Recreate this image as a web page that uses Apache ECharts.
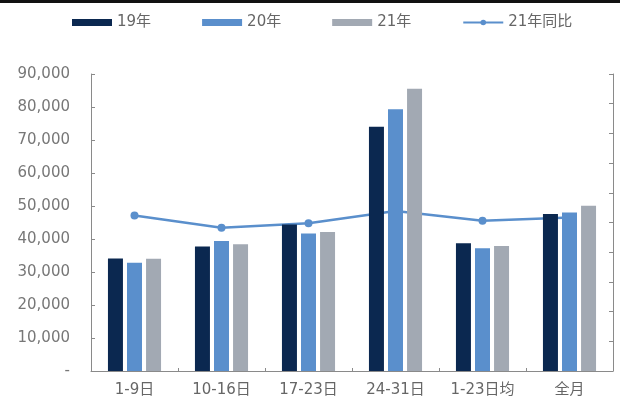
<!DOCTYPE html>
<html>
<head>
<meta charset="utf-8">
<script src="https://cdn.jsdelivr.net/npm/echarts@6/dist/echarts.min.js"></script>
<style>
html,body{margin:0;padding:0;background:#fff;}
#chart{width:620px;height:403px;}
</style>
</head>
<body>
<div id="chart"></div>
<script>
// Daily-period volumes by year, plus the 2021 year-on-year change (%)
var categories = ['1-9日', '10-16日', '17-23日', '24-31日', '1-23日均', '全月'];
var y19 = [34100, 37700, 44400, 74000, 38700, 47600];
var y20 = [32800, 39400, 41700, 79300, 37200, 48000];
var y21 = [34000, 38400, 42100, 85500, 37900, 50100];
var yoy21 = [2.1, -1.6, -0.2, 3.5, 0.5, 1.5];
var leftTicks = { min: 0, max: 90000, interval: 10000 };
var rightTicks = { min: -45, max: 45, interval: 9 };

var FONT = '"DejaVu Sans", "Noto Sans CJK SC", sans-serif';
var chart = echarts.init(document.getElementById('chart'));

function fmt(v) {
  if (v === 0) return '-';
  return String(v).replace(/\B(?=(\d{3})+(?!\d))/g, ',');
}

var axisLine = { show: true, lineStyle: { color: '#8a8a8a', width: 1 } };
var tick = { show: true, inside: true, length: 4, lineStyle: { color: '#8a8a8a' } };

chart.setOption({
  animation: false,
  backgroundColor: '#fff',
  textStyle: { fontFamily: FONT },
  graphic: [{
    type: 'rect', left: 0, top: 0,
    shape: { width: 620, height: 3 },
    style: { fill: '#111' }
  }],
  legend: {
    top: 10, left: 67,
    itemWidth: 40, itemHeight: 7, itemGap: 51,
    textStyle: { fontSize: 15, color: '#666', fontFamily: FONT },
    data: [
      { name: '19年', icon: 'rect' },
      { name: '20年', icon: 'rect' },
      { name: '21年', icon: 'rect' },
      { name: '21年同比' }
    ]
  },
  grid: { left: 91, right: 7, top: 74, bottom: 32 },
  xAxis: {
    type: 'category',
    data: categories,
    axisLine: axisLine,
    axisTick: { show: true, inside: true, length: 3, lineStyle: { color: '#8a8a8a' } },
    axisLabel: { fontSize: 15, color: '#666', margin: 12, fontFamily: FONT }
  },
  yAxis: [{
    type: 'value',
    min: leftTicks.min, max: leftTicks.max, interval: leftTicks.interval,
    axisLine: axisLine,
    axisTick: tick,
    splitLine: { show: false },
    axisLabel: { fontSize: 15, color: '#777', margin: 21, formatter: fmt, fontFamily: FONT }
  }, {
    type: 'value',
    min: rightTicks.min, max: rightTicks.max, interval: rightTicks.interval,
    axisLine: axisLine,
    axisTick: tick,
    splitLine: { show: false },
    axisLabel: { show: false }
  }],
  series: [{
    name: '19年', type: 'bar', data: y19, z: 3,
    barWidth: 15, barGap: '27%',
    itemStyle: { color: '#0b2850' }
  }, {
    name: '20年', type: 'bar', data: y20, z: 3,
    barWidth: 15, barGap: '27%',
    itemStyle: { color: '#5a8fcc' }
  }, {
    name: '21年', type: 'bar', data: y21, z: 3,
    barWidth: 15, barGap: '27%',
    itemStyle: { color: '#a2a9b3' }
  }, {
    name: '21年同比', type: 'line', yAxisIndex: 1, data: yoy21, z: 2,
    symbol: 'circle', symbolSize: 8,
    lineStyle: { color: '#5a8fcc', width: 2.5 },
    itemStyle: { color: '#5a8fcc' }
  }]
});
</script>
</body>
</html>
